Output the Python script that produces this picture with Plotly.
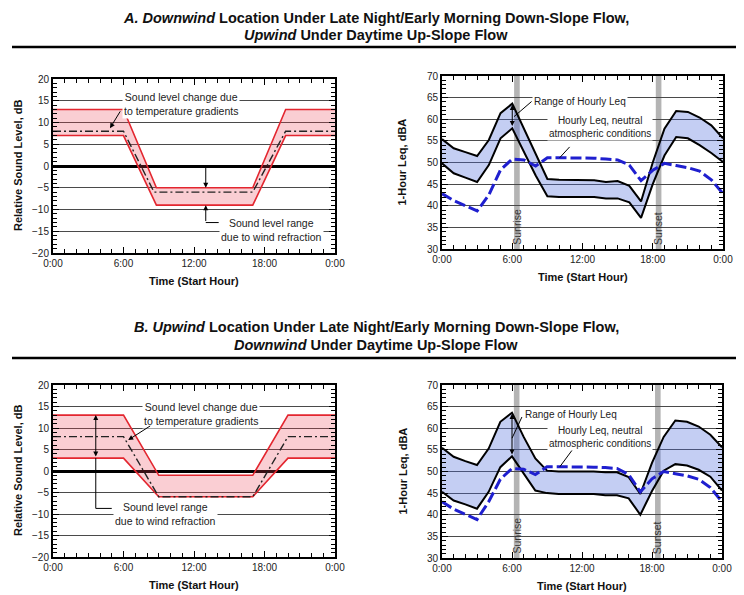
import plotly.graph_objects as go

# The page adds an 8 px body margin; the figure is sized so that it fills the window.
PAGE_W, PAGE_H = 744, 595
OFF = 8
W, H = PAGE_W - OFF, PAGE_H - OFF

# ---------------- data ----------------
HOURS = list(range(25))
X_TICKS = [0, 6, 12, 18, 24]
X_LABELS = ["0:00", "6:00", "12:00", "18:00", "0:00"]

# Panel A, left: relative sound level (dB)
a_left_x = [0, 6, 8.8, 17, 19.8, 24]
a_left_upper = [13, 13, -5, -5, 13, 13]
a_left_lower = [7, 7, -9, -9, 7, 7]
a_left_mid_x = [0, 6, 8.6, 17, 19.8, 24]
a_left_mid = [8, 8, -6, -6, 8, 8]

# Panel B, left
b_left_x = [0, 6, 9, 17, 20, 24]
b_left_upper = [13, 13, -1, -1, 13, 13]
b_left_lower = [3, 3, -6, -6, 3, 3]
b_left_mid = [8, 8, -6, -6, 8, 8]

# Panel A, right: hourly Leq (dBA)
a_right_upper = [55.4, 53.3, 52.4, 51.5, 55.2, 61.4, 63.6, 57.8, 51.8, 46.2, 46.0, 46.0, 46.0,
                 45.9, 45.5, 45.7, 44.6, 41.0, 50.0, 57.8, 61.9, 61.7, 60.4, 58.6, 55.6]
a_right_lower = [49.8, 47.5, 46.5, 45.5, 49.4, 55.6, 57.9, 52.5, 47.0, 42.2, 42.0, 42.0, 42.0,
                 42.0, 41.7, 41.7, 40.8, 37.2, 45.0, 51.6, 55.9, 55.6, 54.0, 52.2, 50.1]
a_right_neutral = [42.8, 41.2, 40.0, 38.8, 42.5, 48.3, 50.8, 50.6, 49.2, 51.1, 51.1, 51.1, 51.1,
                   51.0, 50.8, 50.6, 49.4, 45.8, 48.2, 49.8, 49.3, 48.8, 48.0, 46.0, 42.8]

# Panel B, right
b_right_upper = [55.5, 53.4, 52.4, 51.5, 55.3, 61.5, 63.6, 58.0, 53.0, 50.2, 50.0, 50.0, 50.0,
                 50.0, 49.8, 49.8, 48.7, 44.8, 52.0, 58.0, 61.8, 61.5, 60.4, 58.5, 55.6]
b_right_lower = [45.3, 43.3, 42.4, 41.4, 45.3, 51.0, 53.5, 49.5, 45.6, 45.0, 44.8, 44.8, 44.8,
                 44.8, 44.5, 44.5, 43.8, 40.0, 45.5, 50.2, 51.7, 51.4, 50.4, 48.8, 45.6]
b_right_neutral = [43.0, 41.3, 40.1, 38.9, 43.0, 48.2, 50.7, 50.5, 49.3, 51.1, 51.1, 51.1, 51.1,
                   51.0, 50.9, 50.7, 49.3, 45.3, 48.3, 50.0, 49.5, 49.0, 48.2, 46.3, 43.0]

SUN_EVENTS = ["Sunrise", "Sunset"]
SUN_HOURS = [6.4, 18.5]
SUN_HALF_WIDTH = 0.24

TITLE_A = ["<b><i>A. Downwind</i> Location Under Late Night/Early Morning Down-Slope Flow,</b>",
           "<b><i>Upwind</i> Under Daytime Up-Slope Flow</b>"]
TITLE_B = ["<b><i>B. Upwind</i> Location Under Late Night/Early Morning Down-Slope Flow,</b>",
           "<b><i>Downwind</i> Under Daytime Up-Slope Flow</b>"]

FONT = "Arial, Liberation Sans, Helvetica, sans-serif"
RED = "#e3262f"
PINK = "rgba(236,60,80,0.25)"
BLUE_FILL = "rgba(75,105,220,0.33)"
BLUE_LINE = "#1f1fcf"


def px(x):
    return (x - OFF) / W


def py(y):
    return 1 - (y - OFF) / H


# plot-area boxes in page pixels (left, right, top, bottom)
BOX = {
    1: (53, 335, 79, 253),
    2: (442, 723, 76, 249),
    3: (53, 335, 385, 557),
    4: (442, 722, 385, 558),
}

fig = go.Figure()


def ax_names(i):
    s = "" if i == 1 else str(i)
    return "x" + s, "y" + s


def add_left(i, xs, upper, lower, mid_x, mid):
    xr, yr = ax_names(i)
    fig.add_trace(go.Scatter(x=xs, y=lower, mode="lines", line=dict(color=RED, width=1.6),
                             xaxis=xr, yaxis=yr, showlegend=False, hoverinfo="skip"))
    fig.add_trace(go.Scatter(x=xs, y=upper, mode="lines", line=dict(color=RED, width=1.6),
                             fill="tonexty", fillcolor=PINK,
                             xaxis=xr, yaxis=yr, showlegend=False, hoverinfo="skip"))
    fig.add_trace(go.Scatter(x=mid_x, y=mid, mode="lines",
                             line=dict(color="#222", width=1.4, dash="8px,3px,2px,3px"),
                             xaxis=xr, yaxis=yr, showlegend=False, hoverinfo="skip"))


def add_right(i, upper, lower, neutral):
    xr, yr = ax_names(i)
    fig.add_trace(go.Scatter(x=HOURS, y=lower, mode="lines", line=dict(color="black", width=2),
                             xaxis=xr, yaxis=yr, showlegend=False, hoverinfo="skip"))
    fig.add_trace(go.Scatter(x=HOURS, y=upper, mode="lines", line=dict(color="black", width=2),
                             fill="tonexty", fillcolor=BLUE_FILL,
                             xaxis=xr, yaxis=yr, showlegend=False, hoverinfo="skip"))
    fig.add_trace(go.Scatter(x=HOURS, y=neutral, mode="lines",
                             line=dict(color=BLUE_LINE, width=3, dash="11px,4px"),
                             xaxis=xr, yaxis=yr, showlegend=False, hoverinfo="skip"))
    for name, h in zip(SUN_EVENTS, SUN_HOURS):
        fig.add_shape(type="rect", xref=xr, yref=yr + " domain", x0=h - SUN_HALF_WIDTH,
                      x1=h + SUN_HALF_WIDTH, y0=0, y1=1, fillcolor="#b4b4b4",
                      line=dict(width=0), layer="below")
        fig.add_annotation(xref=xr, yref=yr, x=h, y=30.5, text=name, textangle=-90,
                           showarrow=False, xanchor="center", yanchor="bottom",
                           font=dict(family=FONT, size=10.5, color="#333"))


add_left(1, a_left_x, a_left_upper, a_left_lower, a_left_mid_x, a_left_mid)
add_right(2, a_right_upper, a_right_lower, a_right_neutral)
add_left(3, b_left_x, b_left_upper, b_left_lower, b_left_x, b_left_mid)
add_right(4, b_right_upper, b_right_lower, b_right_neutral)

tickfont = dict(family=FONT, size=10, color="#222")
layout = {}
for i, (l, r, t, b) in BOX.items():
    s = "" if i == 1 else str(i)
    left_panel = i in (1, 3)
    layout["xaxis" + s] = dict(
        domain=[px(l), px(r)], anchor="y" + s, range=[0, 24], automargin=False,
        tickmode="array", tickvals=X_TICKS, ticktext=X_LABELS,
        ticks="inside", ticklen=6, tickcolor="black", tickwidth=1,
        minor=dict(tickmode="linear", tick0=0, dtick=1, ticks="inside", ticklen=4,
                   tickcolor="black", showgrid=False),
        showline=True, linecolor="black", linewidth=2, mirror="allticks",
        showgrid=False, zeroline=False, tickfont=tickfont, fixedrange=True,
    )
    layout["yaxis" + s] = dict(
        domain=[py(b), py(t)], anchor="x" + s, automargin=False,
        range=[-20, 20] if left_panel else [30, 70], dtick=5,
        ticks="inside", ticklen=6, tickcolor="black", tickwidth=1,
        minor=dict(dtick=1, ticks="inside", ticklen=4, tickcolor="black", showgrid=False),
        showline=True, linecolor="black", linewidth=2, mirror="allticks",
        showgrid=True, gridcolor="#4a4a4a", gridwidth=1,
        zeroline=left_panel, zerolinecolor="black", zerolinewidth=2.5,
        tickfont=tickfont, fixedrange=True,
    )

fig.update_layout(
    width=W, height=H, margin=dict(l=0, r=0, t=0, b=0, pad=0, autoexpand=False),
    paper_bgcolor="white", plot_bgcolor="white", showlegend=False,
    font=dict(family=FONT, color="#222"),
    **layout,
)

# ---------- titles and rules ----------
title_font = dict(family=FONT, size=14.5, color="#111")
for lines, ys, y_rule in [(TITLE_A, (18, 35), 47), (TITLE_B, (327, 345), 358)]:
    for text, y in zip(lines, ys):
        fig.add_annotation(xref="paper", yref="paper", x=px(376), y=py(y), text=text,
                           showarrow=False, xanchor="center", yanchor="middle",
                           font=title_font)
    fig.add_shape(type="line", xref="paper", yref="paper", x0=px(12), x1=1, y0=py(y_rule),
                  y1=py(y_rule), line=dict(color="black", width=2.5))

# ---------- axis titles ----------
axis_font = dict(family=FONT, size=11, color="#111")
for i, (l, r, t, b) in BOX.items():
    fig.add_annotation(xref="paper", yref="paper", x=px((l + r) / 2), y=py(b + 28),
                       text="<b>Time (Start Hour)</b>", showarrow=False,
                       xanchor="center", yanchor="middle", font=axis_font)
    left_panel = i in (1, 3)
    fig.add_annotation(xref="paper", yref="paper", x=px(18 if left_panel else 402),
                       y=py((t + b) / 2),
                       text="<b>Relative Sound Level, dB</b>" if left_panel else "<b>1-Hour Leq, dBA</b>",
                       textangle=-90, showarrow=False, xanchor="center", yanchor="middle",
                       font=axis_font)

left_note_font = dict(family=FONT, size=10.5, color="#222")
right_note_font = dict(family=FONT, size=10, color="#222")


def note(xr, yr, x, y, text, font, xanchor="left"):
    fig.add_annotation(xref=xr, yref=yr, x=x, y=y, text=text, showarrow=False,
                       xanchor=xanchor, yanchor="middle", align="center",
                       bgcolor="white", borderpad=1, font=font)


def arrow(xr, yr, x, y, ax, ay, both=False):
    fig.add_annotation(xref=xr, yref=yr, axref=xr, ayref=yr, x=x, y=y, ax=ax, ay=ay, text="",
                       showarrow=True, arrowhead=2, arrowsize=1, arrowwidth=1,
                       arrowcolor="black", arrowside="end+start" if both else "end")


def seg(xr, yr, pts):
    path = "M " + " L ".join(f"{a},{b}" for a, b in pts)
    fig.add_shape(type="path", xref=xr, yref=yr, path=path, line=dict(color="black", width=1))


# Panel A left
note("x", "y", 5.9, 14.2, "Sound level change due<br>to temperature gradients", left_note_font)
arrow("x", "y", 4.85, 8.7, 5.8, 12.9)
arrow("x", "y", 13, -5, 13, 0)
arrow("x", "y", 13, -9, 13, -13)
seg("x", "y", [(13, -13), (14.1, -13)])
note("x", "y", 14.1, -14.7, "Sound level range<br>due to wind refraction", left_note_font)

# Panel B left
note("x3", "y3", 7.6, 13.2, "Sound level change due<br>to temperature gradients", left_note_font)
arrow("x3", "y3", 6.4, 7.2, 8.4, 10.7)
arrow("x3", "y3", 3.64, 13, 3.64, 3, both=True)
seg("x3", "y3", [(3.64, 3), (3.64, -8.7), (5.0, -8.7)])
note("x3", "y3", 5.1, -10.1, "Sound level range<br>due to wind refraction", left_note_font)

# Panel A right
arrow("x2", "y2", 6.0, 63.3, 6.0, 58.1, both=True)
seg("x2", "y2", [(7.65, 64.1), (6.15, 60.6)])
note("x2", "y2", 7.7, 64.1, "Range of Hourly Leq", right_note_font)
note("x2", "y2", 13.5, 58.3, "Hourly Leq, neutral<br>atmospheric conditions", right_note_font,
     xanchor="center")
seg("x2", "y2", [(10.9, 53.6), (10.05, 51.1)])

# Panel B right
arrow("x4", "y4", 6.0, 63.3, 6.0, 53.6, both=True)
seg("x4", "y4", [(6.85, 62.6), (6.0, 57.7)])
note("x4", "y4", 6.9, 63.2, "Range of Hourly Leq", right_note_font)
note("x4", "y4", 13.5, 58.0, "Hourly Leq, neutral<br>atmospheric conditions", right_note_font,
     xanchor="center")
seg("x4", "y4", [(11.2, 55.1), (10.1, 51.1)])

fig.write_html("out.html")
